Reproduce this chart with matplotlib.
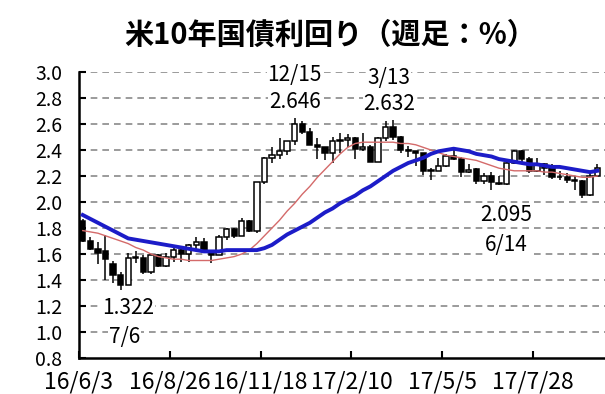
import numpy as np
import matplotlib
matplotlib.use("Agg")
import matplotlib.pyplot as plt

plt.rcParams['font.family'] = ['Noto Sans CJK JP', 'DejaVu Sans']

# weekly candles, 2016/6/3 .. 2017/9/22
opens = [1.85, 1.70, 1.64, 1.62, 1.52, 1.44, 1.36, 1.58, 1.57, 1.46, 1.59, 1.51,
         1.58, 1.63, 1.60, 1.67, 1.69, 1.62, 1.59, 1.73, 1.79, 1.74, 1.85, 1.78,
         2.15, 2.34, 2.36, 2.39, 2.47, 2.60, 2.54, 2.44, 2.42, 2.38, 2.47, 2.48,
         2.49, 2.41, 2.42, 2.31, 2.49, 2.58, 2.50, 2.40, 2.39, 2.38, 2.24, 2.24,
         2.28, 2.35, 2.33, 2.23, 2.25, 2.16, 2.20, 2.15, 2.14, 2.30, 2.39, 2.33,
         2.24, 2.29, 2.26, 2.19, 2.19, 2.17, 2.16, 2.05, 2.20]
highs = [1.87, 1.73, 1.69, 1.75, 1.55, 1.46, 1.61, 1.62, 1.59, 1.60, 1.60, 1.61,
         1.65, 1.64, 1.68, 1.73, 1.72, 1.63, 1.75, 1.80, 1.80, 1.88, 1.86, 2.15,
         2.35, 2.42, 2.49, 2.47, 2.646, 2.62, 2.57, 2.49, 2.42, 2.50, 2.53, 2.52,
         2.50, 2.53, 2.44, 2.50, 2.62, 2.632, 2.51, 2.43, 2.39, 2.38, 2.26, 2.34,
         2.37, 2.42, 2.35, 2.29, 2.26, 2.22, 2.23, 2.20, 2.31, 2.40, 2.40, 2.35,
         2.34, 2.30, 2.29, 2.24, 2.22, 2.20, 2.17, 2.22, 2.29]
lows = [1.69, 1.63, 1.52, 1.40, 1.38, 1.322, 1.36, 1.53, 1.45, 1.45, 1.50, 1.50,
        1.54, 1.54, 1.54, 1.64, 1.61, 1.53, 1.59, 1.71, 1.72, 1.74, 1.77, 1.76,
        2.14, 2.30, 2.33, 2.36, 2.44, 2.52, 2.44, 2.33, 2.32, 2.30, 2.38, 2.42,
        2.33, 2.39, 2.31, 2.31, 2.47, 2.48, 2.38, 2.35, 2.28, 2.21, 2.17, 2.24,
        2.27, 2.32, 2.19, 2.22, 2.14, 2.14, 2.095, 2.13, 2.13, 2.29, 2.30, 2.22,
        2.23, 2.21, 2.18, 2.17, 2.15, 2.09, 2.03, 2.05, 2.19]
closes = [1.70, 1.64, 1.61, 1.56, 1.44, 1.36, 1.57, 1.57, 1.46, 1.59, 1.51, 1.58,
          1.63, 1.60, 1.67, 1.69, 1.62, 1.59, 1.73, 1.79, 1.74, 1.85, 1.78, 2.15,
          2.34, 2.36, 2.39, 2.47, 2.60, 2.54, 2.44, 2.42, 2.38, 2.47, 2.48, 2.49,
          2.41, 2.42, 2.31, 2.49, 2.58, 2.50, 2.40, 2.39, 2.38, 2.24, 2.24, 2.28,
          2.35, 2.33, 2.23, 2.25, 2.16, 2.20, 2.15, 2.14, 2.30, 2.39, 2.33, 2.24,
          2.29, 2.26, 2.19, 2.19, 2.17, 2.16, 2.05, 2.20, 2.26]

# 13-week (red) and 26-week (blue) moving averages
ma13 = [1.78, 1.77, 1.76, 1.74, 1.72, 1.70, 1.68, 1.65, 1.63, 1.60, 1.58, 1.57,
        1.56, 1.56, 1.55, 1.55, 1.55, 1.55, 1.56, 1.57, 1.58, 1.60, 1.63, 1.68,
        1.74, 1.80, 1.86, 1.93, 1.99, 2.06, 2.12, 2.19, 2.25, 2.31, 2.37, 2.42,
        2.45, 2.46, 2.46, 2.46, 2.46, 2.46, 2.45, 2.45, 2.44, 2.42, 2.40, 2.38,
        2.36, 2.35, 2.34, 2.33, 2.32, 2.30, 2.28, 2.26, 2.25, 2.24, 2.24, 2.24,
        2.24, 2.23, 2.23, 2.22, 2.21, 2.20, 2.19, 2.19, 2.20]
ma26 = [1.90, 1.87, 1.84, 1.81, 1.78, 1.75, 1.72, 1.71, 1.70, 1.69, 1.68, 1.67,
        1.66, 1.65, 1.64, 1.63, 1.62, 1.62, 1.62, 1.63, 1.63, 1.63, 1.63, 1.63,
        1.645, 1.67, 1.71, 1.75, 1.78, 1.81, 1.84, 1.88, 1.92, 1.95, 1.99, 2.02,
        2.05, 2.09, 2.12, 2.16, 2.20, 2.24, 2.27, 2.30, 2.32, 2.34, 2.37, 2.39,
        2.40, 2.41, 2.40, 2.39, 2.37, 2.36, 2.35, 2.33, 2.32, 2.31, 2.30, 2.29,
        2.29, 2.28, 2.27, 2.27, 2.26, 2.25, 2.24, 2.23, 2.24]

tick_labels = ["16/6/3", "16/8/26", "16/11/18", "17/2/10", "17/5/5", "17/7/28"]
tick_weeks = [0, 12, 24, 36, 48, 60]

notes = [("12/15", 28, 2.975), ("2.646", 28, 2.77),
         ("3/13", 40.5, 2.955), ("2.632", 40.5, 2.755),
         ("2.095", 56, 1.90), ("6/14", 56, 1.67),
         ("1.322", 6.0, 1.185), ("7/6", 5.5, 0.96)]

fig = plt.figure(figsize=(6.05, 3.94), dpi=100)
ax = fig.add_axes([79/605, 1 - 358/394, 526/605, 286/394])

x = np.arange(len(closes))
o = np.array(opens); c = np.array(closes)
up = c >= o
ax.vlines(x, lows, highs, color='black', lw=1.1, zorder=2)
body = np.maximum(np.abs(c - o), 0.006)
ax.bar(x, body, bottom=np.minimum(o, c), width=0.7,
       color=np.where(up, 'white', 'black'), edgecolor='black', lw=1.1, zorder=3)

ax.plot(x, ma13, color='#d46a6a', lw=1, zorder=4)
ax.plot(x, ma26, color='#1c1cc8', lw=2.8, zorder=5)

ax.set_ylim(0.8, 3.0)
ax.set_xlim(-0.5, 69.0)
ax.set_yticks(np.arange(0.8, 3.01, 0.2))
ax.set_yticklabels([f"{v:.1f}" for v in np.arange(0.8, 3.01, 0.2)], fontsize=14)
ax.set_xticks(np.array(tick_weeks) - 0.5)
ax.set_xticklabels(tick_labels, fontsize=16.5)
ax.tick_params(axis='both', direction='in', length=5, width=1.5, colors='black')
ax.tick_params(axis='y', pad=12)
ax.tick_params(axis='x', pad=9)

for s in ['top', 'right']:
    ax.spines[s].set_visible(False)
for s in ['left', 'bottom']:
    ax.spines[s].set_linewidth(1.8)

for v in np.arange(1.0, 3.01, 0.2):
    ax.axhline(v, color='#8a8a8a', lw=1.2, ls=(0, (4, 3)), zorder=1)

for txt, xi, yi in notes:
    ax.text(xi, yi, txt, ha='center', va='center', fontsize=15, zorder=6,
            bbox=dict(facecolor='white', edgecolor='none', pad=0.5))

fig.text(0.545, 0.912, "米10年国債利回り（週足：%）", ha='center', va='center',
         fontsize=21, fontweight='bold')

fig.savefig("out.png", dpi=100)
